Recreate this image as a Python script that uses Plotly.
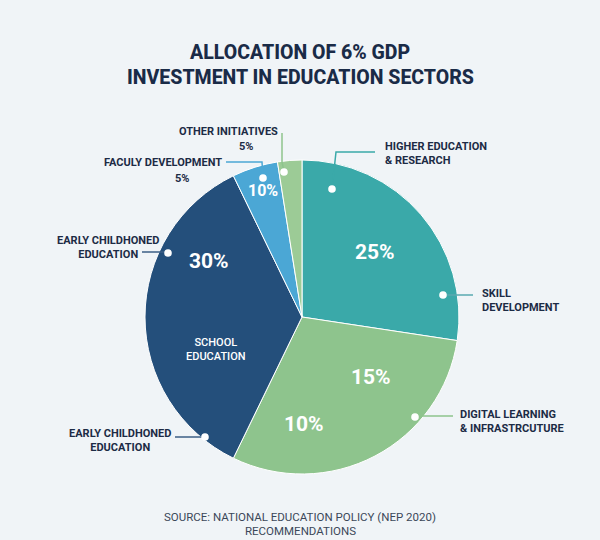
import plotly.graph_objects as go

# ---- data ----
slice_labels = ["Higher Education & Research / Skill Development",
                "Digital Learning & Infrastructure",
                "School Education",
                "Faculty Development",
                "Other Initiatives"]
slice_values = [27.4, 29.8, 35.6, 4.7, 2.5]
slice_colors = ["#3aa9a9", "#8ec48d", "#244f7b", "#4ba7d5", "#9ccb96"]

W, H = 600, 540
CX, CY, R = 302, 317, 157


def px(x):
    return x / W


def py(y):
    return 1 - y / H


fig = go.Figure(go.Pie(
    labels=slice_labels, values=slice_values, sort=False, direction="clockwise",
    rotation=0, textinfo="none", hole=0,
    marker=dict(colors=slice_colors, line=dict(color="white", width=1)),
    domain=dict(x=[px(CX - R), px(CX + R)], y=[py(CY + R), py(CY - R)]),
    showlegend=False,
))

ann = []
DARK = "#1c2b45"


def text(x, y, s, size=11, color=DARK, anchor="center", weight=700):
    ann.append(dict(x=px(x), y=py(y), xref="paper", yref="paper", text=s,
                    showarrow=False, xanchor=anchor, yanchor="middle",
                    align=anchor if anchor != "center" else "center",
                    font=dict(family="Roboto", size=size, color=color, weight=weight)))


# title
text(300, 52, "ALLOCATION OF 6% GDP", 19.5, "#1a2b47", weight=800)
text(300, 78, "INVESTMENT IN EDUCATION SECTORS", 19.5, "#1a2b47", weight=800)

# inside texts
text(375, 252, "25%", 21, "white")
text(371, 377, "15%", 21, "white")
text(304, 424, "10%", 21, "white")
text(209, 261, "30%", 21, "white")
text(263, 191, "10%", 16, "white")
text(216, 349, "SCHOOL<br>EDUCATION", 11, "white", weight=500)

# outside labels
text(383, 153, "HIGHER EDUCATION<br>& RESEARCH", 11, anchor="left")
text(480, 300, "SKILL<br>DEVELOPMENT", 11, anchor="left")
text(458, 421, "DIGITAL LEARNING<br>& INFRASTRCUTURE", 11, anchor="left")
text(120, 440, "EARLY CHILDHONED<br>EDUCATION", 11)
text(108, 247, "EARLY CHILDHONED<br>EDUCATION", 11)
text(163, 163, "FACULY DEVELOPMENT", 11)
text(182, 178, "5%", 11)
text(228, 131, "OTHER INITIATIVES", 11)
text(246, 146, "5%", 11)

# source
text(300, 517, "SOURCE: NATIONAL EDUCATION POLICY (NEP 2020)", 11.5, "#3b4859", weight=400)
text(300, 531, "RECOMMENDATIONS", 11.5, "#3b4859", weight=400)

shapes = []


def line(pts, color):
    path = "M " + " L ".join(f"{px(x)},{py(y)}" for x, y in pts)
    shapes.append(dict(type="path", path=path, xref="paper", yref="paper",
                       line=dict(color=color, width=1.5)))


def dot(x, y, r=3.8):
    shapes.append(dict(type="circle", xref="paper", yref="paper",
                       x0=px(x - r), x1=px(x + r), y0=py(y + r), y1=py(y - r),
                       fillcolor="white", line=dict(width=0)))


line([(332, 189), (336, 152), (375, 152)], "#3aa9a9")
line([(443, 295), (473, 295)], "#5aaab0")
line([(415, 416), (453, 416)], "#8ec48d")
line([(175, 437), (205, 437)], "#3c5f86")
line([(142, 252), (168, 252)], "#3c5f86")
line([(226, 162), (262, 162), (263, 178)], "#4ba7d5")
line([(282, 133), (282, 162), (284, 172)], "#8ec48d")

for x, y in [(332, 189), (443, 295), (415, 417), (205, 437), (168, 253), (263, 178), (284, 172)]:
    dot(x, y)

fig.update_layout(
    width=W, height=H, margin=dict(l=0, r=0, t=0, b=0),
    paper_bgcolor="#f0f4f7", plot_bgcolor="#f0f4f7",
    annotations=ann, shapes=shapes,
)

fig.write_html("out.html", config={"displayModeBar": False},
               post_script="document.body.style.margin='0';document.body.style.overflow='hidden';document.body.style.background='#f0f4f7';")
